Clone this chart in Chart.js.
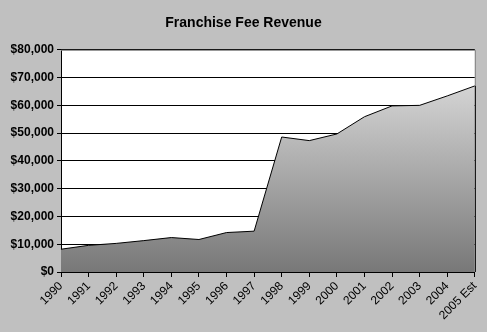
<!DOCTYPE html>
<html>
<head>
<meta charset="utf-8">
<script src="https://cdn.jsdelivr.net/npm/chart.js@4/dist/chart.umd.min.js"></script>
<style>
  html, body { margin: 0; padding: 0; background: #c0c0c0; }
  #wrap { width: 487px; height: 332px; }
</style>
</head>
<body>
<div id="wrap"><canvas id="feeChart" width="487" height="332"></canvas></div>
<script>
// ---- data ----
const years = ["1990", "1991", "1992", "1993", "1994", "1995", "1996", "1997",
               "1998", "1999", "2000", "2001", "2002", "2003", "2004", "2005 Est"];
const revenue = [8200, 9600, 10300, 11300, 12400, 11700, 14200, 14700,
                 48600, 47300, 49700, 55900, 59800, 60000, 63400, 67000];
const yMax = 80000;
const yStep = 10000;

const fontFamily = "Arial, 'Liberation Sans', sans-serif";

// grey page background, white plot area, grey frame on top/right
const plotBackground = {
    id: "plotBackground",
    beforeDraw(chart) {
        const { ctx, chartArea: a } = chart;
        ctx.save();
        ctx.fillStyle = "#c0c0c0";
        ctx.fillRect(0, 0, chart.width, chart.height);
        ctx.fillStyle = "#ffffff";
        ctx.fillRect(a.left, a.top, a.right - a.left, a.bottom - a.top);
        ctx.restore();
    },
    afterDatasetsDraw(chart) {
        const { ctx, chartArea: a } = chart;
        const pts = chart.getDatasetMeta(0).data;
        const last = pts[pts.length - 1];
        ctx.save();
        ctx.lineWidth = 1;
        ctx.strokeStyle = "#808080";
        ctx.beginPath();
        ctx.moveTo(a.left, a.top + 0.5);
        ctx.lineTo(a.right + 0.5, a.top + 0.5);
        ctx.lineTo(a.right + 0.5, a.bottom);
        ctx.stroke();
        // area's right edge in black
        ctx.strokeStyle = "#000000";
        ctx.beginPath();
        ctx.moveTo(a.right + 0.5, last.y);
        ctx.lineTo(a.right + 0.5, a.bottom);
        ctx.stroke();
        ctx.restore();
    }
};

function areaGradient(context) {
    const a = context.chart.chartArea;
    if (!a) return "#aaaaaa";
    const g = context.chart.ctx.createLinearGradient(0, a.top, 0, a.bottom);
    g.addColorStop(0, "#e6e6e6");
    g.addColorStop(1, "#787878");
    return g;
}

new Chart(document.getElementById("feeChart"), {
    type: "line",
    data: {
        labels: years,
        datasets: [{
            label: "Franchise Fee Revenue",
            data: revenue,
            fill: "origin",
            backgroundColor: areaGradient,
            borderColor: "#000000",
            borderWidth: 1,
            pointRadius: 0,
            tension: 0
        }]
    },
    options: {
        responsive: false,
        animation: false,
        layout: { padding: { left: 0, right: 0, top: 0, bottom: 0 } },
        plugins: {
            legend: { display: false },
            tooltip: { enabled: false },
            title: {
                display: true,
                text: "Franchise Fee Revenue",
                color: "#000000",
                font: { family: fontFamily, size: 14, weight: "bold" },
                padding: { top: 15, bottom: 18 }
            }
        },
        scales: {
            x: {
                type: "category",
                offset: false,
                border: { color: "#000000", width: 1 },
                grid: { drawOnChartArea: false, drawTicks: true, tickLength: 5, color: "#000000" },
                ticks: {
                    color: "#000000",
                    font: { family: fontFamily, size: 12 },
                    minRotation: 45,
                    maxRotation: 45,
                    autoSkip: false,
                    padding: 2
                },
                afterFit(scale) { scale.height = 60; }
            },
            y: {
                min: 0,
                max: yMax,
                border: { color: "#000000", width: 1 },
                grid: { color: "#000000", drawTicks: true, tickLength: 4 },
                ticks: {
                    stepSize: yStep,
                    color: "#000000",
                    font: { family: fontFamily, size: 12, weight: "bold" },
                    padding: 3,
                    callback: v => "$" + v.toLocaleString("en-US")
                },
                afterFit(scale) { scale.width = 61; }
            }
        }
    },
    plugins: [plotBackground]
});
</script>
</body>
</html>
